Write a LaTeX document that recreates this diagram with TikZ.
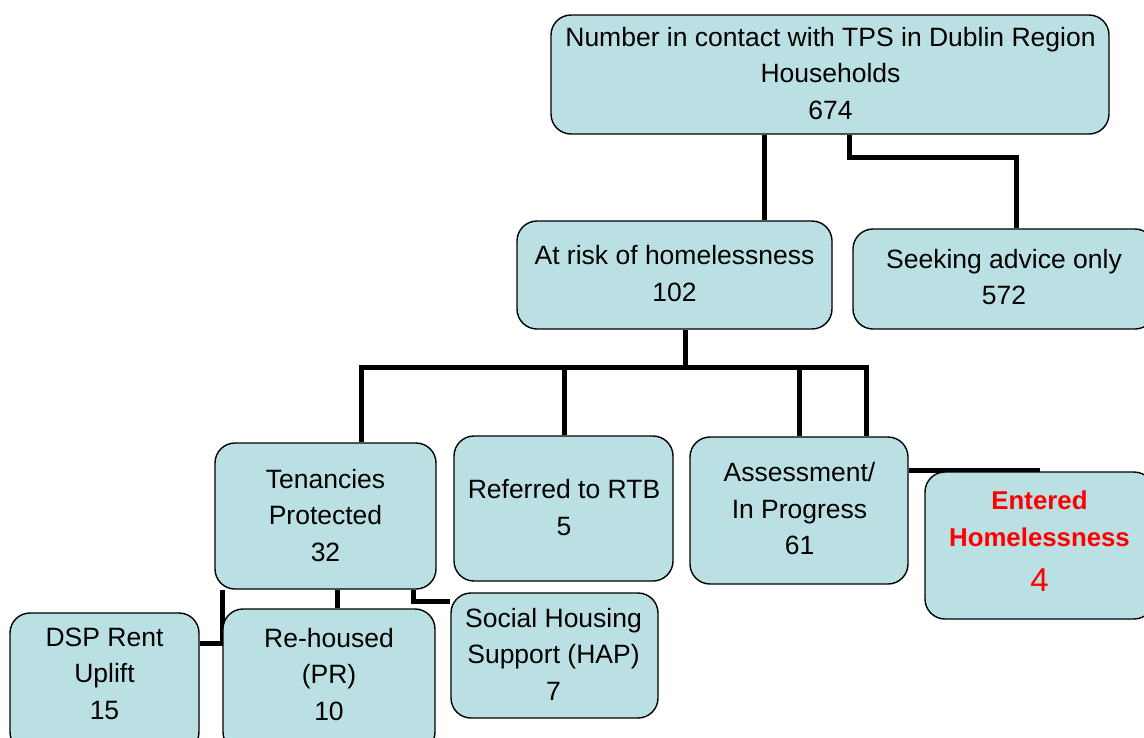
\documentclass[tikz,border=0pt]{standalone}
\usepackage{fontspec}
\setmainfont{Liberation Sans}
\usetikzlibrary{fit,backgrounds}
\definecolor{boxfill}{RGB}{187,224,227}
\definecolor{hred}{RGB}{255,0,0}
\begin{document}
\begin{tikzpicture}[x=1pt,y=-1pt,
  box/.style={draw=black, line width=1.4pt, fill=boxfill, rounded corners=20pt, inner sep=0pt},
  txt/.style={align=center, inner sep=0pt, font=\fontsize{26.5}{36.5}\selectfont},
  redtxt/.style={align=center, inner sep=0pt, text=hred, font=\fontsize{25.8}{37}\selectfont\bfseries},
  conn/.style={line width=5pt}]
\useasboundingbox (0,0) rectangle (1144,737);
\clip (0,0) rectangle (1144,737);
% boxes
\node[box, fit={(551,15) (1109,134)}] (top) {};
\node[box, fit={(517,221) (832,329)}] (atrisk) {};
\node[box, fit={(853,229) (1155,329)}] (seeking) {};
\node[box, fit={(215,443) (436,589)}] (tenancies) {};
\node[box, fit={(454,436) (673,581)}] (referred) {};
\node[box, fit={(690,437) (908,584)}] (assessment) {};
\node[box, fit={(925,472) (1154,619)}] (entered) {};
\node[box, fit={(10,613) (199,752)}] (dsp) {};
\node[box, fit={(223,609) (435,752)}] (rehoused) {};
\node[box, fit={(451,593) (658,718)}] (social) {};
% texts
\node[txt] (top-t) at (830.5,73.5) {Number in contact with TPS in Dublin Region\\Households\\674};
\node[txt] (atrisk-t) at (674.5,273.5) {At risk of homelessness\\102};
\node[txt] (seeking-t) at (1004,277) {Seeking advice only\\572};
\node[txt] (tenancies-t) at (325.5,515.5) {Tenancies\\Protected\\32};
\node[txt] (referred-t) at (564,507.5) {Referred to RTB\\5};
\node[txt] (assessment-t) at (799.5,509) {Assessment/\\In Progress\\61};
\node[redtxt] (entered-t) at (1039.5,519) {Entered\\Homelessness};
\node[inner sep=0pt, text=hred, font=\fontsize{33}{36}\selectfont] (entered-n) at (1039.5,580) {4};
\node[txt] (dsp-t) at (104.5,673.5) {DSP Rent\\Uplift\\15};
\node[txt] (rehoused-t) at (329,674.5) {Re-housed\\(PR)\\10};
\node[txt] (social-t) at (553.5,654) {Social Housing\\Support (HAP)\\7};
% connector helper coordinates
\coordinate (x764) at (764,0);
\coordinate (x849) at (849,0);
\coordinate (j1) at (1016,157);
\coordinate (x685) at (685,0);
\coordinate (bus) at (0,367);
\coordinate (x361) at (361,0);
\coordinate (x564) at (564,0);
\coordinate (x799) at (799,0);
\coordinate (x866) at (866,0);
\coordinate (hE) at (1040,470);
\coordinate (k1) at (222,643);
\coordinate (x337) at (337,0);
\coordinate (k2) at (413,601);
\begin{pgfonlayer}{background}
\draw[conn] (top.south -| x764) -- (atrisk.north -| x764);
\draw[conn] (top.south -| x849) |- (j1) -- (seeking.north -| j1);
\draw[conn] (atrisk.south -| x685) -- (x685 |- bus);
\draw[conn] (tenancies.north -| x361) |- (x866 |- bus) -- (assessment.north -| x866);
\draw[conn] (referred.north -| x564) -- (x564 |- bus);
\draw[conn] (assessment.north -| x799) -- (x799 |- bus);
\draw[conn] (assessment.east |- hE) -- (hE);
\draw[conn] (tenancies.south -| k1) -- (k1) -- (dsp.east |- k1);
\draw[conn] (tenancies.south -| x337) -- (rehoused.north -| x337);
\draw[conn] (tenancies.south -| k2) -- (k2) -- (social.west |- k2);
\end{pgfonlayer}
\end{tikzpicture}
\end{document}
